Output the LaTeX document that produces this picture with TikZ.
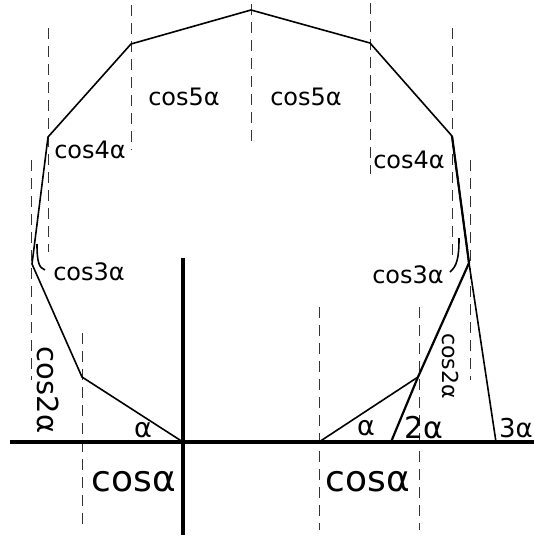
\documentclass[tikz,border=0pt]{standalone}
\usepackage{fontspec}
\setmainfont{DejaVu Sans}
\usetikzlibrary{calc}
\definecolor{dashgray}{HTML}{333333}
\tikzset{
  polyedge/.style={line width=1.6pt,draw=black,line join=round},
  heavyedge/.style={line width=2.2pt,draw=black},
  axisline/.style={line width=3.5pt,draw=black},
  guideline/.style={line width=1pt,draw=dashgray,dash pattern=on 11pt off 7pt},
  lbl/.style={inner sep=0pt,font=\fontsize{24}{28}\selectfont},
  biglbl/.style={inner sep=0pt,font=\fontsize{36}{40}\selectfont}
}
\begin{document}
\begin{tikzpicture}[x=1pt,y=-1pt]
  \useasboundingbox (0,0) rectangle (534,538);
  % vertices of the polygon
  \coordinate (O) at (183,442);
  \coordinate (a1) at (82,377);
  \coordinate (a2) at (32,264);
  \coordinate (a3) at (48,137);
  \coordinate (a4) at (131,44);
  \coordinate (a5) at (251,10);
  \coordinate (a6) at (370,43);
  \coordinate (a7) at (452,136);
  \coordinate (a8) at (469,263);
  \coordinate (a9) at (496,442);
  \coordinate (b0) at (319,442);
  \coordinate (b1) at (418,377);
  \coordinate (b2) at (391,442);
  % dashed guides
  \foreach \gx/\gtop/\gbot in {31/160/380,48/28/252,82/333/530,131/5/150,
      251/4/148,319/307/530,370/3/174,419/307/530,452/28/255,470/160/380}
    \draw[guideline] (\gx,\gtop) -- (\gx,\gbot);
  % axes
  \draw[axisline] (10,442) -- (534,442);
  \draw[axisline] (183,258) -- (183,535);
  % polygon and construction
  \draw[polyedge] (O) -- (a1) -- (a2) -- (a3) -- (a4) -- (a5) -- (a6) -- (a7) -- (a8) -- (a9);
  \draw[heavyedge] (a7) -- (a8);
  \draw[polyedge] (b0) -- (b1);
  \draw[heavyedge] (b2) -- (b1) -- (a8);
  % brackets
  \draw[polyedge] (37,244) .. controls (37,262) and (39,268) .. (45,270);
  \draw[polyedge] (459,238) .. controls (459,258) and (457,266) .. (450,272);
  % labels
  \node[lbl] (c5l) at (184,97) {cos5α};
  \node[lbl] (c5r) at (306,97) {cos5α};
  \node[lbl] (c4l) at (90,150) {cos4α};
  \node[lbl] (c4r) at (409,160) {cos4α};
  \node[lbl] (c3l) at (89,272) {cos3α};
  \node[lbl] (c3r) at (408,275) {cos3α};
  \node[lbl,font=\fontsize{29}{32}\selectfont,rotate=-90] (c2l) at (48,390) {cos2α};
  \node[lbl,font=\fontsize{22}{26}\selectfont,rotate=-90] (c2r) at (451,366) {cos2α};
  \node[lbl,font=\fontsize{27}{30}\selectfont] (al) at (143,430) {α};
  \node[lbl,font=\fontsize{27}{30}\selectfont] (ar) at (366,428) {α};
  \node[lbl,font=\fontsize{30}{34}\selectfont] (a2r) at (424,428) {2α};
  \node[lbl,font=\fontsize{26}{30}\selectfont,anchor=west] (a3r) at (499,428) {3α};
  \node[biglbl] (c1l) at (134,482) {cosα};
  \node[biglbl] (c1r) at (368,482) {cosα};
\end{tikzpicture}
\end{document}
